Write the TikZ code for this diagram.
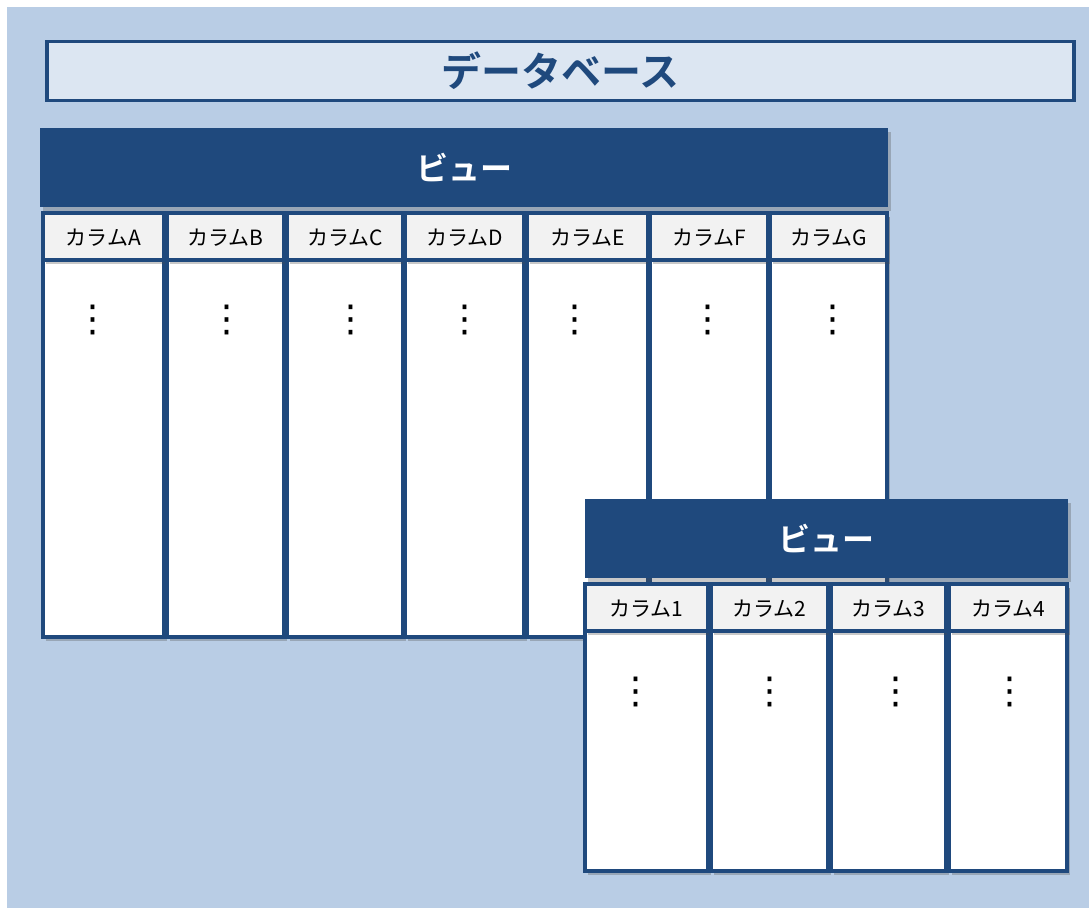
\documentclass[tikz,border=0pt]{standalone}
\usepackage{fontspec}
\setmainfont{Noto Sans CJK JP}[BoldFont={Noto Sans CJK JP Bold}]
\newfontfamily\symfont{DejaVu Sans}
\usetikzlibrary{shadows}
\definecolor{bgblue}{HTML}{B9CDE5}
\definecolor{titlefill}{HTML}{DCE6F2}
\definecolor{navy}{HTML}{1F497D}
\definecolor{cellgray}{HTML}{F2F2F2}
\tikzset{
  softshadow/.style={drop shadow={shadow xshift=3pt, shadow yshift=-4pt, opacity=0.3, fill=black!70}},
  titlebox/.style={draw=navy, line width=3.5pt, fill=titlefill, inner sep=0pt,
    font=\bfseries\fontsize{40}{44}\selectfont, text=navy},
  viewhead/.style={fill=navy, inner sep=0pt, softshadow,
    font=\bfseries\fontsize{32}{36}\selectfont, text=white},
  colbody/.style={draw=navy, line width=4pt, fill=white, inner sep=0pt, softshadow},
  colhead/.style={draw=navy, line width=4pt, fill=cellgray, inner sep=0pt, softshadow},
  collabel/.style={inner sep=0pt, font=\fontsize{21}{24}\selectfont, text=black},
  vdots/.style={inner sep=0pt, font=\symfont\fontsize{37}{40}\selectfont, text=black}
}
\begin{document}
\begin{tikzpicture}[x=1pt,y=-1pt]
\useasboundingbox (0,0) rectangle (1089,908);
\fill[bgblue] (7,7) rectangle (1089,908);

% title
\node[titlebox, anchor=north west, minimum width=1027, minimum height=59] (db) at (45,39.5) {データベース};

% first view
\node[viewhead, anchor=north west, minimum width=848, minimum height=79] (view1) at (40,128) {ビュー};
\foreach \n/\xa/\xb/\lab/\dx in {A/41/162/カラムA/93, B/165/282/カラムB/227, C/285/401/カラムC/351, D/403/522/カラムD/465, E/525/646/カラムE/575, F/648/766/カラムF/708, G/768/885/カラムG/833}{
  \node[colbody, anchor=north west, minimum width={\xb-\xa}, minimum height=424] (body\n) at (\xa,211) {};
  \node[colhead, anchor=north west, minimum width={\xb-\xa}, minimum height=47] (head\n) at (\xa,211) {};
  \node[collabel] (lab\n) at ([yshift=-1pt]head\n.center) {\lab};
  \node[vdots] (dots\n) at (\dx,320) {⋮};
}

% second view
\node[viewhead, anchor=north west, minimum width=483, minimum height=79] (view2) at (585,499) {ビュー};
\foreach \n/\xa/\xb/\lab/\dx in {1/583/706/カラム1/636, 2/709/826/カラム2/770, 3/829/944/カラム3/896, 4/947/1065/カラム4/1010}{
  \node[colbody, anchor=north west, minimum width={\xb-\xa}, minimum height=287] (sbody\n) at (\xa,582) {};
  \node[colhead, anchor=north west, minimum width={\xb-\xa}, minimum height=47] (shead\n) at (\xa,582) {};
  \node[collabel] (slab\n) at ([yshift=-1pt]shead\n.center) {\lab};
  \node[vdots] (sdots\n) at (\dx,692) {⋮};
}
\end{tikzpicture}
\end{document}
